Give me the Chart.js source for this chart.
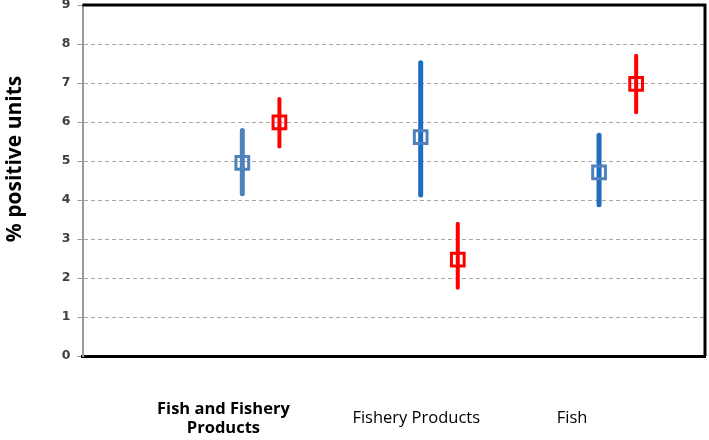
<!DOCTYPE html>
<html>
<head>
<meta charset="utf-8">
<script src="https://cdn.jsdelivr.net/npm/chart.js@4"></script>
<style>
  html, body { margin: 0; padding: 0; background: #fff; }
</style>
</head>
<body>
<canvas id="chart" width="709" height="440"></canvas>
<script>
// data
const categories = [["Fish and Fishery", "Products"], "Fishery Products", "Fish"];
const yTicks = [0, 1, 2, 3, 4, 5, 6, 7, 8, 9];

const blueMean = [4.95, 5.61, 4.71];
const blueLow = [4.16, 4.13, 3.88];
const blueHigh = [5.78, 7.52, 5.66];

const redMean = [5.99, 2.47, 6.98];
const redLow = [5.37, 1.75, 6.25];
const redHigh = [6.59, 3.39, 7.70];

// layout bits (not data)
const pairOffset = 0.104;
const labelShift = [-0.21, -0.129, -0.255];

const errorBars = {
  id: 'errorBars',
  beforeDatasetsDraw(chart) {
    const ctx = chart.ctx;
    const y = chart.scales.y;
    chart.data.datasets.forEach((ds, i) => {
      const meta = chart.getDatasetMeta(i);
      meta.data.forEach((pt, j) => {
        ctx.save();
        ctx.strokeStyle = ds.barColors[j];
        ctx.lineWidth = ds.barWidth;
        ctx.lineCap = 'round';
        ctx.beginPath();
        ctx.moveTo(pt.x, y.getPixelForValue(ds.low[j]));
        ctx.lineTo(pt.x, y.getPixelForValue(ds.high[j]));
        ctx.stroke();
        ctx.restore();
      });
    });
  }
};

const frame = {
  id: 'frame',
  afterDraw(chart) {
    const { ctx, chartArea: a } = chart;
    ctx.save();
    ctx.strokeStyle = '#000';
    ctx.lineWidth = 3;
    ctx.beginPath();
    ctx.moveTo(a.left, a.top);
    ctx.lineTo(a.right, a.top);
    ctx.lineTo(a.right, a.bottom);
    ctx.stroke();
    // y title, sits a bit above centre in the reference
    ctx.fillStyle = '#000';
    ctx.font = 'bold 21px "Open Sans"';
    ctx.textAlign = 'center';
    ctx.textBaseline = 'middle';
    ctx.translate(15, 159);
    ctx.rotate(-Math.PI / 2);
    ctx.fillText('% positive units', 0, 0);
    ctx.restore();
  }
};

new Chart(document.getElementById('chart'), {
  type: 'scatter',
  data: {
    datasets: [
      {
        data: blueMean.map((v, i) => ({ x: i + 1 - pairOffset, y: v })),
        low: blueLow,
        high: blueHigh,
        barColors: ['#4F81BD', '#1F6DBE', '#1F6DBE'],
        barWidth: 5,
        pointStyle: 'rect',
        pointRadius: 9,
        pointBorderWidth: 3,
        borderColor: '#4F81BD',
        backgroundColor: 'rgba(0,0,0,0)'
      },
      {
        data: redMean.map((v, i) => ({ x: i + 1 + pairOffset, y: v })),
        low: redLow,
        high: redHigh,
        barColors: ['#FF0000', '#FF0000', '#FF0000'],
        barWidth: 4,
        pointStyle: 'rect',
        pointRadius: 9,
        pointBorderWidth: 3,
        borderColor: '#FF0000',
        backgroundColor: 'rgba(0,0,0,0)'
      }
    ]
  },
  options: {
    responsive: false,
    animation: false,
    devicePixelRatio: 1,
    layout: { autoPadding: false, padding: { left: 0, right: 4, top: 5, bottom: 0 } },
    plugins: {
      legend: { display: false },
      tooltip: { enabled: false }
    },
    scales: {
      x: {
        type: 'linear',
        min: 0,
        max: 3.49,
        afterBuildTicks(scale) {
          scale.ticks = categories.map((c, i) => ({ value: i + 1 + labelShift[i] }));
        },
        afterFit(scale) {
          scale.height = 84;
          scale.paddingLeft = 0;
          scale.paddingRight = 0;
        },
        grid: { display: false, drawTicks: false },
        border: { color: '#000', width: 3 },
        ticks: {
          padding: 53,
          crossAlign: 'center',
          maxRotation: 0,
          autoSkip: false,
          color: '#000',
          font: (c) => ({ family: 'Open Sans', size: 16.5, weight: c.index === 0 ? 'bold' : 'normal', lineHeight: 1.18 }),
          callback: (v, i) => categories[i]
        }
      },
      y: {
        min: 0,
        max: 9,
        afterBuildTicks(scale) {
          scale.ticks = yTicks.map(v => ({ value: v }));
        },
        afterFit(scale) {
          scale.width = 82.5;
          scale.paddingTop = 0;
          scale.paddingBottom = 0;
        },
        grid: {
          color: (c) => (c.tick.value === 0 || c.tick.value === 9) ? 'rgba(0,0,0,0)' : '#a6a6a6',
          tickColor: '#999',
          tickLength: 5,
          lineWidth: 1
        },
        border: { color: '#999', width: 2, dash: [4, 3] },
        ticks: {
          padding: 7,
          color: '#404040',
          font: { family: 'DejaVu Sans', size: 12.5, weight: 'bold' }
        }
      }
    }
  },
  plugins: [errorBars, frame]
});
</script>
</body>
</html>
